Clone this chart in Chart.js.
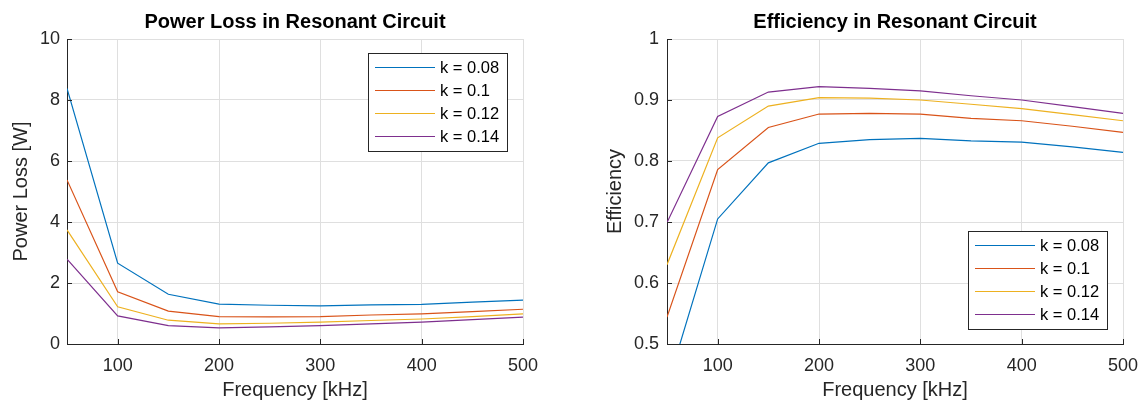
<!DOCTYPE html>
<html>
<head>
<meta charset="utf-8">
<script src="https://cdn.jsdelivr.net/npm/chart.js@4/dist/chart.umd.min.js"></script>
<style>
    html, body { margin: 0; padding: 0; background: #fff; }
    #wrap { position: relative; width: 1143px; height: 403px; overflow: hidden; }
    .panel { position: absolute; top: 0; height: 403px; }
    #lossPanel { left: 0; width: 560px; }
    #effPanel { left: 560px; width: 583px; }
</style>
</head>
<body>
<div id="wrap">
    <div class="panel" id="lossPanel"><canvas id="lossChart"></canvas></div>
    <div class="panel" id="effPanel"><canvas id="effChart"></canvas></div>
</div>
<script>
const frequencies = [50, 100, 150, 200, 250, 300, 350, 400, 450, 500];
const xTickValues = [100, 200, 300, 400, 500];
const seriesLabels = ['k = 0.08', 'k = 0.1', 'k = 0.12', 'k = 0.14'];
const seriesColors = ['#0072BD', '#D95319', '#EDB120', '#7E2F8E'];

// power loss [W]
const lossK008 = [8.38, 2.65, 1.63, 1.31, 1.27, 1.25, 1.28, 1.30, 1.37, 1.44];
const lossK010 = [5.38, 1.71, 1.08, 0.90, 0.89, 0.90, 0.95, 0.99, 1.06, 1.14];
const lossK012 = [3.74, 1.22, 0.78, 0.66, 0.68, 0.72, 0.77, 0.82, 0.90, 0.99];
const lossK014 = [2.78, 0.92, 0.60, 0.53, 0.56, 0.60, 0.66, 0.72, 0.80, 0.88];

// efficiency
const effK008 = [0.430, 0.705, 0.797, 0.829, 0.835, 0.837, 0.833, 0.831, 0.823, 0.814];
const effK010 = [0.544, 0.786, 0.855, 0.877, 0.878, 0.877, 0.870, 0.866, 0.857, 0.847];
const effK012 = [0.630, 0.838, 0.890, 0.904, 0.903, 0.900, 0.893, 0.886, 0.876, 0.866];
const effK014 = [0.699, 0.873, 0.913, 0.922, 0.919, 0.915, 0.907, 0.900, 0.889, 0.878];

const FONT = "'Liberation Sans', Arial, Helvetica, sans-serif";
const AXIS_COLOR = '#262626';
const GRID_COLOR = '#dfdfdf';

function buildDatasets(seriesList) {
    return seriesList.map((values, i) => ({
        label: seriesLabels[i],
        data: frequencies.map((f, j) => ({ x: f, y: values[j] })),
        borderColor: seriesColors[i],
        backgroundColor: seriesColors[i],
        borderWidth: 1.2,
        pointRadius: 0,
        tension: 0,
        fill: false,
    }));
}

// MATLAB style ticks pointing into the plot
const innerTicks = {
    id: 'innerTicks',
    afterDatasetsDraw(chart) {
        const { ctx, chartArea, scales } = chart;
        ctx.save();
        ctx.strokeStyle = AXIS_COLOR;
        ctx.lineWidth = 1;
        ctx.beginPath();
        scales.x.ticks.forEach(t => {
            const px = Math.round(scales.x.getPixelForValue(t.value)) + 0.5;
            ctx.moveTo(px, chartArea.bottom);
            ctx.lineTo(px, chartArea.bottom - 5);
        });
        scales.y.ticks.forEach(t => {
            const py = Math.round(scales.y.getPixelForValue(t.value)) + 0.5;
            ctx.moveTo(chartArea.left, py);
            ctx.lineTo(chartArea.left + 5, py);
        });
        ctx.stroke();
        ctx.restore();
    },
};

// legend box drawn inside the axes
const insideLegend = {
    id: 'insideLegend',
    afterDraw(chart, args, opts) {
        const { ctx, chartArea } = chart;
        const rowH = 23;
        const width = 139;
        const height = 98;
        const left = chartArea.right - opts.right - width;
        const top = opts.corner === 'bottom'
            ? chartArea.bottom - opts.bottom - height
            : chartArea.top + opts.top;
        ctx.save();
        ctx.fillStyle = '#ffffff';
        ctx.fillRect(left, top, width, height);
        ctx.strokeStyle = '#262626';
        ctx.lineWidth = 1;
        ctx.strokeRect(Math.round(left) + 0.5, Math.round(top) + 0.5, width, height);
        ctx.font = '16.5px ' + FONT;
        ctx.textBaseline = 'middle';
        ctx.textAlign = 'left';
        chart.data.datasets.forEach((ds, i) => {
            const y = top + 14.5 + i * rowH;
            ctx.strokeStyle = ds.borderColor;
            ctx.lineWidth = 1.2;
            ctx.beginPath();
            ctx.moveTo(left + 7, y);
            ctx.lineTo(left + 67, y);
            ctx.stroke();
            ctx.fillStyle = '#000000';
            ctx.fillText(ds.label, left + 72, y + 1);
        });
        ctx.restore();
    },
};

function makeChart(canvasId, cfg) {
    const ctx = document.getElementById(canvasId).getContext('2d');
    return new Chart(ctx, {
        type: 'line',
        data: { datasets: buildDatasets(cfg.series) },
        options: {
            responsive: true,
            maintainAspectRatio: false,
            animation: false,
            layout: { padding: { left: 0, right: cfg.padRight, top: 0, bottom: 0 } },
            plugins: {
                legend: { display: false },
                tooltip: { enabled: false },
                title: {
                    display: true,
                    text: cfg.title,
                    fullSize: false,
                    color: '#000000',
                    font: { family: FONT, size: 20, weight: 'bold', lineHeight: 1.2 },
                    padding: { top: 10, bottom: 5 },
                },
                insideLegend: cfg.legend,
            },
            scales: {
                x: {
                    type: 'linear',
                    min: 50,
                    max: 500,
                    afterBuildTicks: scale => {
                        scale.ticks = xTickValues.map(v => ({ value: v }));
                    },
                    afterFit: scale => {
                        scale.height = 59;
                        scale.paddingLeft = 0;
                        scale.paddingRight = 0;
                    },
                    grid: { color: GRID_COLOR, drawTicks: false },
                    border: { color: AXIS_COLOR, width: 1 },
                    ticks: {
                        color: AXIS_COLOR,
                        padding: 11,
                        maxRotation: 0,
                        font: { family: FONT, size: 18 },
                    },
                    title: {
                        display: true,
                        text: 'Frequency [kHz]',
                        color: AXIS_COLOR,
                        font: { family: FONT, size: 20, lineHeight: 1.2 },
                        padding: { top: 0, bottom: 1 },
                    },
                },
                y: {
                    type: 'linear',
                    min: cfg.yMin,
                    max: cfg.yMax,
                    afterFit: scale => { scale.width = cfg.yWidth; },
                    grid: { color: GRID_COLOR, drawTicks: false },
                    border: { color: AXIS_COLOR, width: 1 },
                    ticks: {
                        stepSize: cfg.yStep,
                        color: AXIS_COLOR,
                        padding: cfg.yTickPad,
                        font: { family: FONT, size: 18 },
                        callback: v => String(+Number(v).toFixed(2)),
                    },
                    title: {
                        display: true,
                        text: cfg.yTitle,
                        color: AXIS_COLOR,
                        font: { family: FONT, size: 20, lineHeight: 1.2 },
                        padding: { top: cfg.yTitlePad, bottom: 0 },
                    },
                },
            },
        },
        plugins: [innerTicks, insideLegend],
    });
}

makeChart('lossChart', {
    title: 'Power Loss in Resonant Circuit',
    series: [lossK008, lossK010, lossK012, lossK014],
    yMin: 0, yMax: 10, yStep: 2,
    yTitle: 'Power Loss [W]',
    yWidth: 67, yTickPad: 7, yTitlePad: 9,
    padRight: 37,
    legend: { corner: 'top', top: 14, right: 16 },
});

makeChart('effChart', {
    title: 'Efficiency in Resonant Circuit',
    series: [effK008, effK010, effK012, effK014],
    yMin: 0.5, yMax: 1, yStep: 0.1,
    yTitle: 'Efficiency',
    yWidth: 107, yTickPad: 8, yTitlePad: 43,
    padRight: 20,
    legend: { corner: 'bottom', bottom: 15, right: 16 },
});
</script>
</body>
</html>
